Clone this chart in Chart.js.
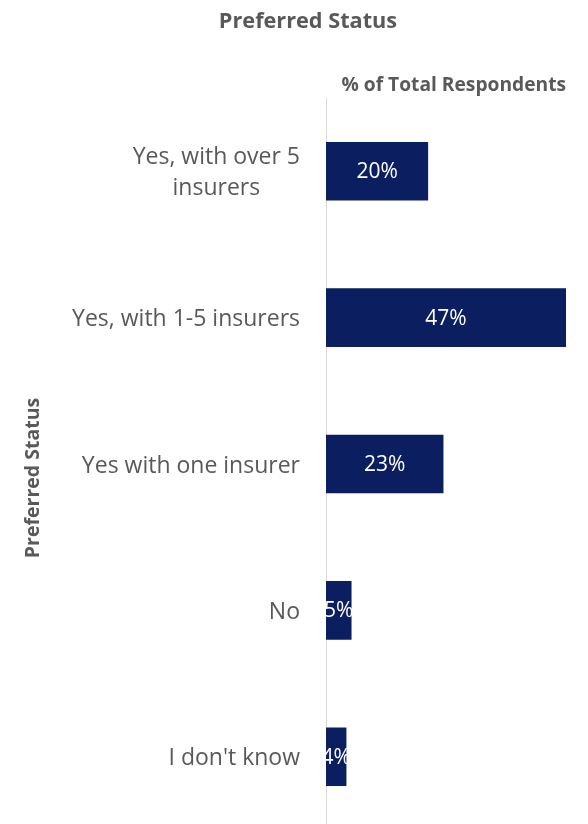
<!DOCTYPE html>
<html>
<head>
<meta charset="utf-8">
<script src="https://cdn.jsdelivr.net/npm/chart.js@4/dist/chart.umd.min.js"></script>
<style>
  html, body { margin: 0; padding: 0; background: #fff; overflow: hidden; }
  #wrap { position: relative; width: 588px; height: 830px; }
</style>
</head>
<body>
<div id="wrap"><canvas id="chart"></canvas></div>
<script>
const categories = [['Yes, with over 5', 'insurers'], 'Yes, with 1-5 insurers', 'Yes with one insurer', 'No', "I don't know"];
const shares = [20, 47, 23, 5, 4];
const valueLabels = ['20%', '47%', '23%', '5%', '4%'];

const FONT = '"Open Sans", Lato, sans-serif';
const GREY = '#595959';
const NAVY = '#0b1f60';

// category names, value labels and the two free-standing titles
const textPlugin = {
  id: 'textPlugin',
  afterDatasetsDraw(chart) {
    const { ctx } = chart;
    const meta = chart.getDatasetMeta(0);
    ctx.save();
    ctx.fillStyle = '#ffffff';
    ctx.font = '21px ' + FONT;
    ctx.textAlign = 'center';
    ctx.textBaseline = 'middle';
    meta.data.forEach((bar, i) => {
      ctx.fillText(valueLabels[i], (bar.base + bar.x) / 2, bar.y + 1);
    });
    ctx.restore();
  },
  afterDraw(chart) {
    const { ctx, chartArea, scales } = chart;
    ctx.save();
    ctx.fillStyle = GREY;
    ctx.textBaseline = 'middle';

    // category labels, right edge 26px left of the axis, lines centred in block
    ctx.font = '23px ' + FONT;
    const right = chartArea.left - 26;
    categories.forEach((cat, i) => {
      const lines = Array.isArray(cat) ? cat : [cat];
      const y = scales.y.getPixelForTick(i) + 2;
      const w = Math.max(...lines.map(l => ctx.measureText(l).width));
      const lh = 31;
      ctx.textAlign = 'center';
      lines.forEach((l, k) => {
        ctx.fillText(l, right - w / 2, y + (k - (lines.length - 1) / 2) * lh);
      });
    });

    // chart title
    ctx.font = 'bold 21.7px ' + FONT;
    ctx.textAlign = 'center';
    ctx.fillText('Preferred Status', 308, 22);

    // y axis title
    ctx.translate(33, 478);
    ctx.rotate(-Math.PI / 2);
    ctx.font = 'bold 19.5px ' + FONT;
    ctx.fillText('Preferred Status', 0, 0);
    ctx.restore();
  }
};

new Chart(document.getElementById('chart'), {
  type: 'bar',
  data: {
    labels: categories,
    datasets: [{
      data: shares,
      backgroundColor: NAVY,
      borderWidth: 0,
      barPercentage: 0.4,
      categoryPercentage: 1
    }]
  },
  plugins: [textPlugin],
  options: {
    indexAxis: 'y',
    responsive: true,
    maintainAspectRatio: false,
    animation: false,
    layout: { padding: { top: 74, right: 22, bottom: 0, left: 0 } },
    plugins: {
      legend: { display: false },
      title: { display: false },
      tooltip: { enabled: false }
    },
    scales: {
      x: {
        position: 'top',
        min: 0,
        max: 47,
        grid: { display: false },
        border: { display: false },
        ticks: { display: false },
        title: {
          display: true,
          text: '% of Total Respondents',
          align: 'end',
          color: GREY,
          font: { family: FONT, size: 19.2, weight: 'bold' },
          padding: { top: 0, bottom: 0 }
        },
        afterFit(scale) { scale.height = 24; }
      },
      y: {
        grid: { display: false },
        border: { display: true, color: '#d9d9d9', width: 1 },
        ticks: { display: false },
        afterFit(scale) { scale.width = 326; }
      }
    }
  }
});
</script>
</body>
</html>
